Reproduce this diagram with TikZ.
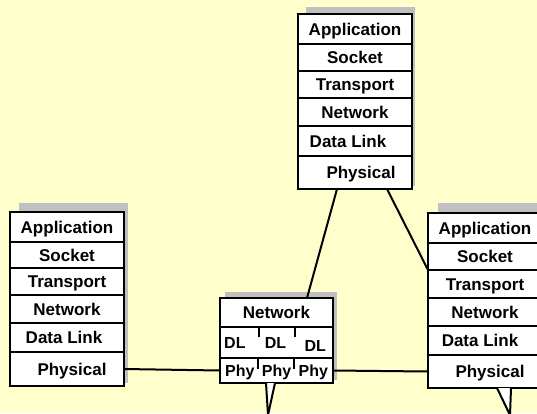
\documentclass[tikz,border=0pt]{standalone}
\usepackage{fontspec}
\setmainfont{Liberation Sans}
\usetikzlibrary{positioning, calc}
\definecolor{bgYellow}{RGB}{255,255,204}
\definecolor{shadowGray}{RGB}{192,192,192}
\tikzset{
  % one layer of a protocol stack
  layer/.style={
    rectangle, draw=black, line width=1.2pt, fill=white,
    font=\fontsize{17}{19}\selectfont\bfseries,
    text height=12pt, text depth=0pt,
    minimum width=114pt, inner sep=0pt, outer sep=0pt,
  },
  cell/.style={font=\fontsize{16}{18}\selectfont\bfseries,
    text height=11.5pt, text depth=0pt, inner sep=0pt},
  frame/.style={draw=black, line width=2.6pt},
  shade/.style={fill=shadowGray},
  link/.style={draw=black, line width=2pt},
  pointer/.style={draw=black, line width=2pt, fill=white},
}

\begin{document}
\begin{tikzpicture}[x=1pt, y=-1pt]

\path[use as bounding box, fill=bgYellow] (0,0) rectangle (537,413);
\clip (0,0) rectangle (537,413);

% ── shadows ───────────────────────────────────────────────────────────────
\fill[shade] (306,7)   rectangle (415,186);
\fill[shade] (19,203)  rectangle (128,383);
\fill[shade] (438,203) rectangle (545,385);
\fill[shade] (225,292) rectangle (337,380);

% ═══════════════════════════════════════════════════════════════════════════
%  TOP STACK
% ═══════════════════════════════════════════════════════════════════════════
\node[layer, minimum height=30pt, anchor=north west] (ts-app) at (298,14) {Application};
\node[layer, minimum height=27pt, below=0pt of ts-app] (ts-soc) {Socket};
\node[layer, minimum height=27pt, below=0pt of ts-soc] (ts-tra) {Transport};
\node[layer, minimum height=28pt, below=0pt of ts-tra] (ts-net) {Network};
\node[layer, minimum height=30pt, below=0pt of ts-net] (ts-dl)  {\hspace*{-14pt}Data Link};
\node[layer, minimum height=33pt, below=0pt of ts-dl]  (ts-phy) {\hspace*{12pt}Physical};
\draw[frame] (ts-app.north west) rectangle (ts-phy.south east);

% ═══════════════════════════════════════════════════════════════════════════
%  LEFT STACK
% ═══════════════════════════════════════════════════════════════════════════
\node[layer, minimum height=30pt, anchor=north west] (ls-app) at (10,212) {Application};
\node[layer, minimum height=26pt, below=0pt of ls-app] (ls-soc) {Socket};
\node[layer, minimum height=27pt, below=0pt of ls-soc] (ls-tra) {Transport};
\node[layer, minimum height=28pt, below=0pt of ls-tra] (ls-net) {Network};
\node[layer, minimum height=29pt, below=0pt of ls-net] (ls-dl)  {\hspace*{-6pt}Data Link};
\node[layer, minimum height=34pt, below=0pt of ls-dl]  (ls-phy) {\hspace*{10pt}Physical};
\draw[frame] (ls-app.north west) rectangle (ls-phy.south east);

% ═══════════════════════════════════════════════════════════════════════════
%  RIGHT STACK
% ═══════════════════════════════════════════════════════════════════════════
\node[layer, minimum height=30pt, anchor=north west] (rs-app) at (428,213) {Application};
\node[layer, minimum height=27pt, below=0pt of rs-app] (rs-soc) {Socket};
\node[layer, minimum height=28pt, below=0pt of rs-soc] (rs-tra) {Transport};
\node[layer, minimum height=28pt, below=0pt of rs-tra] (rs-net) {Network};
\node[layer, minimum height=29pt, below=0pt of rs-net] (rs-dl)  {\hspace*{-10pt}Data Link};
\node[layer, minimum height=33pt, below=0pt of rs-dl]  (rs-phy) {\hspace*{10pt}Physical};
\draw[frame] (rs-app.north west) rectangle (rs-phy.south east);

% ═══════════════════════════════════════════════════════════════════════════
%  ROUTER
% ═══════════════════════════════════════════════════════════════════════════
\node[layer, minimum width=113pt, minimum height=29pt, anchor=north west] (rt-net) at (220,298) {Network};
\node[layer, minimum width=113pt, minimum height=31pt, below=0pt of rt-net] (rt-dl) {};
\node[layer, minimum width=113pt, minimum height=25pt, below=0pt of rt-dl]  (rt-phy) {};
\draw[frame] (rt-net.north west) rectangle (rt-phy.south east);

\node[cell, right=4pt of rt-dl.west]          (dl-a) {DL};
\node[cell, right=19pt of dl-a]               (dl-b) {DL};
\node[cell, right=18pt of dl-b, yshift=-3pt]  (dl-c) {DL};
\node[cell, right=5pt of rt-phy.west]         (phy-a) {Phy};
\node[cell, right=7pt of phy-a]               (phy-b) {Phy};
\node[cell, right=7pt of phy-b]               (phy-c) {Phy};

% small dividers
\draw[line width=1.2pt] ($(rt-dl.north west)+(39,0)$)  -- ++(0,10);
\draw[line width=1.2pt] ($(rt-dl.north west)+(75,0)$)  -- ++(0,10);
\draw[line width=1.2pt] ($(rt-phy.north west)+(38,0)$) -- ++(0,11);
\draw[line width=1.2pt] ($(rt-phy.north west)+(74,0)$) -- ++(0,11);

% ═══════════════════════════════════════════════════════════════════════════
%  LINKS
% ═══════════════════════════════════════════════════════════════════════════
\draw[link] ($(ts-phy.south west)+(39,0)$) -- ($(rt-net.north west)+(87,0)$);
\draw[link] ($(ts-phy.south west)+(89,0)$) -- (rs-soc.south west);
\draw[link] (ls-phy.east) -- (rt-phy.west);
\draw[link] (rt-phy.east) -- (rs-phy.west);

% ── pointers at the bottom ────────────────────────────────────────────────
\coordinate (rt-tip) at (268,415);
\coordinate (rs-tip) at (510,415);
\filldraw[pointer] ($(rt-phy.south west)+(46,0)$) -- (rt-tip) -- ($(rt-phy.south west)+(55,0)$);
\filldraw[pointer] ($(rs-phy.south west)+(69,0)$) -- (rs-tip) -- ($(rs-phy.south west)+(83,0)$);

\end{tikzpicture}
\end{document}
